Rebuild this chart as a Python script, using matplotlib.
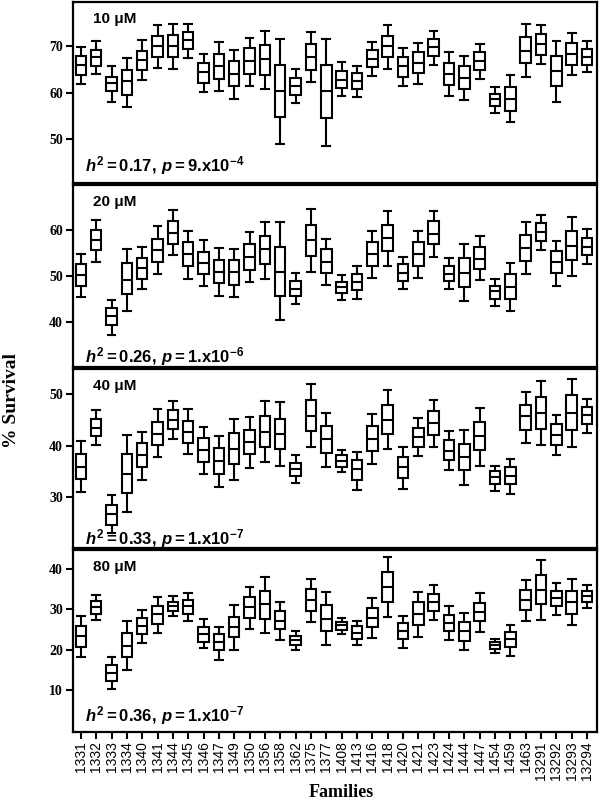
import matplotlib
matplotlib.use('Agg')
import matplotlib.pyplot as plt

plt.rcParams['mathtext.fontset'] = 'custom'
plt.rcParams['mathtext.rm'] = 'Liberation Sans:bold'
plt.rcParams['mathtext.it'] = 'Liberation Sans:bold:italic'
plt.rcParams['mathtext.bf'] = 'Liberation Sans:bold'

families = ['1331', '1332', '1333', '1334', '1340', '1341', '1344', '1345', '1346',
            '1347', '1349', '1350', '1356', '1358', '1362', '1375', '1377', '1408',
            '1413', '1416', '1418', '1420', '1421', '1423', '1424', '1444', '1447',
            '1454', '1459', '1463', '13291', '13292', '13293', '13294']

# 10 uM
c10_hi = [69.9, 71.1, 65.7, 67.6, 71.3, 74.7, 74.9, 74.9, 68.4, 70.9, 69.3, 71.9, 73.4, 71.6, 65.1, 73.2, 71.6,
          66.6, 65.7, 70.9, 74.7, 69.6, 70.7, 73.4, 68.7, 68.0, 70.6, 61.2, 63.9, 74.9, 74.7, 71.1, 72.9, 71.2]
c10_q3 = [68.0, 69.3, 63.4, 65.0, 69.1, 72.3, 72.5, 73.2, 66.4, 68.4, 66.8, 69.6, 70.3, 66.0, 63.2, 70.5, 66.0,
          64.8, 64.2, 69.3, 72.3, 67.7, 68.7, 71.6, 66.4, 65.7, 68.7, 59.8, 61.2, 72.0, 72.7, 68.0, 70.7, 69.4]
c10_med = [66.0, 67.7, 62.1, 62.5, 67.1, 70.1, 70.1, 71.3, 64.4, 65.7, 64.1, 66.9, 67.3, 60.3, 61.5, 67.8, 60.3,
           62.8, 62.5, 67.3, 70.0, 65.7, 66.4, 69.8, 64.1, 63.2, 66.8, 58.6, 58.6, 69.1, 70.5, 64.6, 68.4, 67.8]
c10_q1 = [63.9, 65.7, 60.3, 59.6, 65.0, 67.7, 67.7, 69.4, 62.2, 63.0, 61.4, 64.1, 63.9, 54.7, 59.6, 65.0, 54.5,
          61.0, 60.8, 65.5, 67.7, 63.5, 64.2, 68.0, 61.7, 60.8, 65.0, 57.2, 56.1, 66.4, 68.2, 61.4, 66.0, 66.0]
c10_lo = [61.9, 64.1, 57.9, 56.9, 62.8, 65.3, 65.2, 67.5, 60.1, 60.3, 58.6, 61.5, 60.8, 49.0, 57.8, 62.4, 48.6,
          59.3, 59.1, 63.7, 65.1, 61.5, 61.9, 66.0, 59.4, 58.5, 63.0, 55.6, 53.6, 63.5, 66.2, 57.9, 63.9, 64.4]

# 20 uM
c20_hi = [54.8, 62.0, 44.8, 55.9, 56.3, 60.7, 64.2, 59.8, 57.7, 56.0, 55.8, 59.4, 61.6, 61.6, 50.7, 64.5, 58.0,
          50.1, 52.1, 59.8, 64.0, 54.1, 59.8, 64.1, 53.9, 56.9, 58.6, 49.4, 52.8, 61.6, 63.2, 57.6, 62.7, 60.1]
c20_q3 = [52.5, 60.0, 43.1, 52.8, 53.9, 58.0, 61.8, 57.3, 55.1, 53.4, 53.4, 56.8, 58.7, 56.3, 48.9, 61.1, 55.7,
          48.7, 50.4, 57.3, 61.1, 52.5, 57.3, 61.8, 52.1, 53.9, 56.3, 47.9, 50.3, 58.9, 61.4, 55.3, 59.6, 58.1]
c20_med = [50.1, 57.7, 41.3, 49.2, 51.7, 55.5, 59.3, 54.8, 52.8, 50.8, 50.8, 54.1, 55.7, 50.8, 47.2, 57.7, 53.0,
           47.6, 48.6, 54.8, 58.2, 50.7, 54.8, 59.1, 50.5, 50.7, 53.7, 46.7, 47.6, 56.0, 59.4, 52.9, 56.5, 56.3]
c20_q1 = [47.9, 55.5, 39.3, 46.0, 49.4, 53.0, 56.9, 52.1, 50.3, 48.4, 48.1, 51.2, 52.5, 45.6, 45.6, 54.2, 50.7,
          46.3, 46.9, 52.1, 55.3, 48.9, 52.1, 56.8, 48.9, 47.6, 51.5, 45.0, 45.0, 53.2, 57.6, 50.6, 53.5, 54.5]
c20_lo = [45.5, 53.0, 37.3, 42.4, 47.2, 50.4, 54.5, 49.4, 47.8, 45.6, 45.5, 48.6, 49.4, 40.4, 44.0, 50.8, 48.1,
          44.8, 45.0, 49.6, 52.1, 47.2, 49.6, 54.1, 47.1, 44.5, 49.2, 43.5, 42.4, 50.3, 55.6, 47.9, 50.0, 52.5]

# 40 uM
c40_hi = [40.8, 46.8, 30.4, 42.1, 42.7, 47.0, 48.7, 47.0, 43.6, 41.8, 45.2, 45.6, 48.6, 48.4, 38.1, 51.9, 46.2,
          39.2, 38.8, 46.1, 50.7, 39.7, 45.4, 48.8, 42.8, 43.1, 47.3, 36.1, 37.4, 50.4, 52.5, 46.0, 52.8, 49.0]
c40_q3 = [38.4, 45.2, 28.6, 38.4, 40.4, 44.6, 46.8, 44.8, 41.4, 39.6, 42.5, 43.1, 45.8, 45.2, 36.7, 48.9, 43.7,
          38.1, 37.2, 43.7, 47.9, 37.7, 43.4, 46.7, 41.0, 40.3, 44.5, 35.0, 35.9, 47.9, 49.4, 44.1, 49.7, 47.4]
c40_med = [35.9, 43.4, 26.7, 34.5, 38.1, 42.3, 45.0, 42.7, 39.2, 37.0, 39.4, 40.7, 42.7, 42.3, 35.4, 45.8, 41.2,
           37.0, 35.4, 41.3, 45.0, 35.8, 41.6, 44.3, 39.0, 37.7, 41.8, 33.9, 34.2, 45.7, 46.3, 42.1, 46.3, 45.9]
c40_q1 = [33.6, 41.8, 24.7, 30.8, 35.8, 40.1, 43.2, 40.5, 36.8, 34.5, 36.5, 38.3, 39.7, 39.4, 34.1, 42.8, 38.6,
          35.9, 33.3, 38.9, 42.3, 33.7, 39.7, 42.1, 37.2, 35.2, 39.2, 32.5, 32.5, 43.1, 43.2, 40.2, 43.1, 44.2]
c40_lo = [31.0, 40.1, 23.0, 27.2, 33.4, 37.7, 41.3, 38.4, 34.5, 31.9, 33.4, 35.7, 36.8, 36.0, 32.7, 39.7, 35.9,
          34.8, 31.5, 36.5, 39.4, 31.6, 37.9, 39.7, 35.2, 32.3, 36.1, 31.2, 30.7, 40.5, 40.1, 38.1, 39.7, 42.5]

# 80 uM
c80_hi = [28.4, 33.6, 18.1, 27.2, 29.8, 33.0, 33.3, 34.0, 27.6, 25.7, 31.1, 35.6, 38.1, 31.9, 24.6, 37.5, 34.2,
          27.8, 27.2, 32.9, 42.9, 28.4, 34.4, 36.0, 30.7, 29.0, 34.0, 22.6, 26.0, 37.2, 42.3, 36.4, 37.6, 35.9]
c80_q3 = [25.9, 32.1, 16.2, 24.2, 27.8, 30.8, 31.9, 32.2, 25.7, 23.9, 28.2, 33.1, 34.6, 29.6, 23.4, 35.0, 31.1,
          26.9, 25.9, 30.4, 39.2, 26.7, 31.7, 33.7, 28.6, 26.8, 31.5, 22.0, 24.3, 34.7, 38.6, 34.6, 34.6, 34.5]
c80_med = [23.4, 30.5, 14.3, 20.9, 25.9, 28.8, 30.8, 30.7, 23.9, 22.0, 25.5, 30.5, 31.2, 27.2, 22.4, 32.3, 27.6,
           26.0, 24.2, 27.8, 35.5, 24.5, 28.8, 31.7, 26.5, 24.5, 29.3, 21.2, 22.6, 32.3, 34.9, 32.8, 31.8, 33.2]
c80_q1 = [20.6, 28.8, 12.3, 18.1, 23.8, 26.4, 29.6, 28.8, 22.0, 19.8, 23.1, 27.9, 27.5, 25.0, 21.2, 29.6, 24.5,
          24.9, 22.6, 25.5, 31.9, 22.6, 26.1, 29.6, 24.5, 22.2, 27.1, 20.2, 20.6, 29.7, 31.2, 30.7, 28.9, 31.8]
c80_lo = [18.1, 27.4, 10.3, 15.0, 21.6, 24.1, 28.4, 27.2, 20.3, 17.4, 19.9, 25.1, 24.1, 22.4, 19.9, 26.8, 21.2,
          23.8, 21.2, 22.8, 28.0, 20.3, 23.2, 27.4, 22.4, 19.8, 24.3, 19.1, 18.5, 27.1, 27.4, 28.7, 26.0, 30.3]

conc_labels = ['10 μM', '20 μM', '40 μM', '80 μM']
h2_vals = ['0.17', '0.26', '0.33', '0.36']
p_mant = ['9', '1', '1', '1']
p_exp = ['-4', '-6', '-7', '-7']

panels = [
    (c10_hi, c10_q3, c10_med, c10_q1, c10_lo),
    (c20_hi, c20_q3, c20_med, c20_q1, c20_lo),
    (c40_hi, c40_q3, c40_med, c40_q1, c40_lo),
    (c80_hi, c80_q3, c80_med, c80_q1, c80_lo),
]
ylims = [(40.5, 79.6), (30.3, 69.7), (20.2, 54.8), (-0.35, 44.7)]
yticks = [[50, 60, 70], [40, 50, 60], [30, 40, 50], [10, 20, 30, 40]]
rects = [
    (0.121, 0.7715, 0.874, 0.226),
    (0.121, 0.5418, 0.874, 0.2276),
    (0.121, 0.3159, 0.874, 0.2234),
    (0.121, 0.0865, 0.874, 0.2269),
]
h2_y = [0.094, 0.06, 0.052, 0.088]

fig = plt.figure(figsize=(6.0, 8.01), dpi=100)
pos = list(range(1, len(families) + 1))
line = dict(color='black', linewidth=1.5)

for i, (hi, q3, med, q1, lo) in enumerate(panels):
    ax = fig.add_axes(rects[i])
    stats = [dict(med=m, q1=a, q3=b, whislo=l, whishi=h, fliers=[])
             for h, b, m, a, l in zip(hi, q3, med, q1, lo)]
    ax.bxp(stats, positions=pos, widths=0.68, capwidths=0.5, patch_artist=True,
           showfliers=False,
           boxprops=dict(facecolor='white', edgecolor='black', linewidth=1.5),
           medianprops=line, whiskerprops=line, capprops=line)
    ax.set_xlim(0.46, len(families) + 0.65)
    ax.set_ylim(*ylims[i])
    for sp in ax.spines.values():
        sp.set_linewidth(1.6)
    ax.set_yticks(yticks[i], [str(t) for t in yticks[i]],
                  fontfamily='Liberation Serif', fontweight='bold', fontsize=10)
    ax.tick_params(axis='y', direction='out', length=5, width=1.5, pad=2)
    if i == 3:
        ax.set_xticks(pos, families, rotation=90, fontfamily='Liberation Sans', fontsize=10)
        ax.tick_params(axis='x', direction='out', length=5, width=1.5, pad=2)
    else:
        ax.set_xticks(pos)
        ax.tick_params(axis='x', bottom=False, labelbottom=False)
    ax.text(0.038, 0.905, conc_labels[i], transform=ax.transAxes, ha='left', va='center',
            fontfamily='Liberation Sans', fontweight='bold', fontsize=11)
    h2_str = (r'$h^{2}=\mathrm{%s,}\,p=\mathrm{%s.}\!\mathrm{x10}^{%s}$'
              % (h2_vals[i], p_mant[i], p_exp[i]))
    ax.text(0.023, h2_y[i], h2_str, transform=ax.transAxes, ha='left', va='center',
            fontsize=12)

fig.text(0.02, 0.5, '% Survival', rotation=90, ha='center', va='center',
         fontfamily='Liberation Serif', fontweight='bold', fontsize=14)
fig.text(0.568, 0.011, 'Families', ha='center', va='center',
         fontfamily='Liberation Serif', fontweight='bold', fontsize=13)

fig.savefig('out.png', dpi=100)
